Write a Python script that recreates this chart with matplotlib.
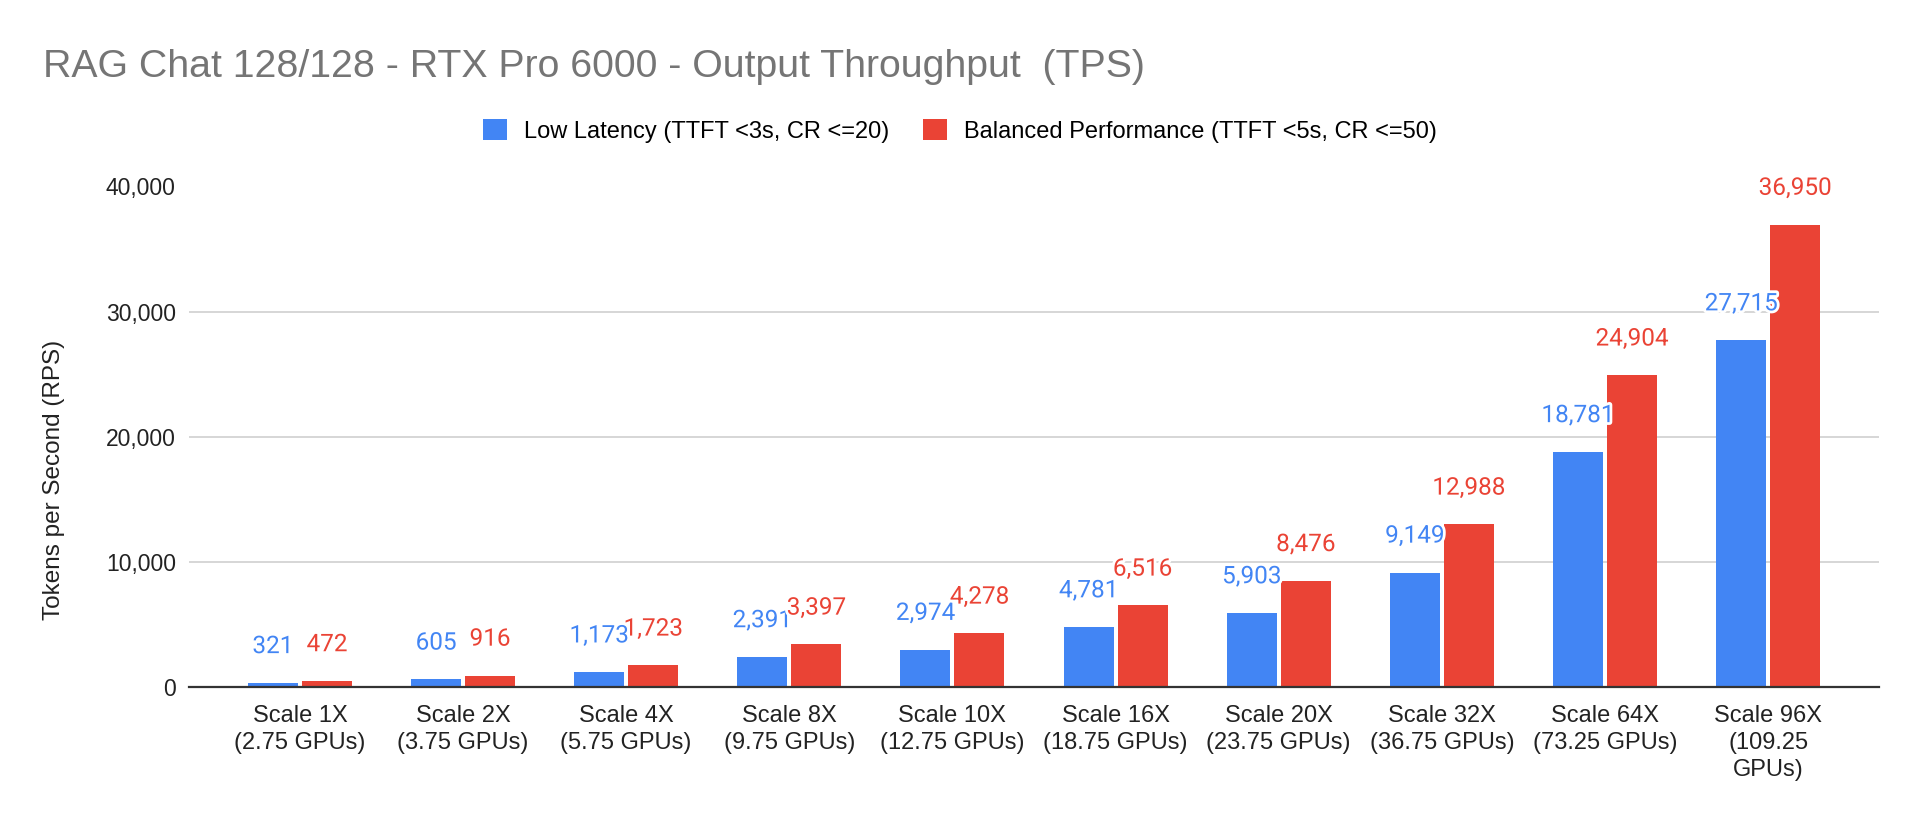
import numpy as np
import matplotlib.pyplot as plt
import matplotlib.patheffects as pe
from matplotlib.patches import Patch
from matplotlib.ticker import FuncFormatter

# ---- data ----
categories = [
    "Scale 1X\n(2.75 GPUs)", "Scale 2X\n(3.75 GPUs)", "Scale 4X\n(5.75 GPUs)",
    "Scale 8X\n(9.75 GPUs)", "Scale 10X\n(12.75 GPUs)", "Scale 16X\n(18.75 GPUs)",
    "Scale 20X\n(23.75 GPUs)", "Scale 32X\n(36.75 GPUs)", "Scale 64X\n(73.25 GPUs)",
    "Scale 96X\n(109.25\nGPUs)",
]
low_latency = [321, 605, 1173, 2391, 2974, 4781, 5903, 9149, 18781, 27715]
balanced = [472, 916, 1723, 3397, 4278, 6516, 8476, 12988, 24904, 36950]
series_names = ["Low Latency (TTFT <3s, CR <=20)", "Balanced Performance (TTFT <5s, CR <=50)"]
yticks = [0, 10000, 20000, 30000, 40000]

BLUE = "#4285F4"
RED = "#EA4335"
ARIAL = "Liberation Sans"

fig = plt.figure(figsize=(19.2, 8.24), dpi=100)
ax = fig.add_axes([189 / 1920, 1 - 687 / 824, 1690 / 1920, 500.5 / 824])

x = np.arange(len(categories))
w = 0.307
off = 0.1655
b1 = ax.bar(x - off, low_latency, w, color=BLUE, zorder=3)
b2 = ax.bar(x + off, balanced, w, color=RED, zorder=3)

# value labels above bars, white halo like the sheets export
halo = [pe.withStroke(linewidth=4, foreground="white")]
for bars, vals, col in [(b1, low_latency, BLUE), (b2, balanced, RED)]:
    for rect, v in zip(bars, vals):
        ax.annotate(f"{v:,}", (rect.get_x() + rect.get_width() / 2, v),
                    xytext=(0, 21.5), textcoords="offset points",
                    ha="center", va="baseline", fontsize=17.5, color=col,
                    family="Roboto", path_effects=halo, zorder=5)

ax.set_xlim(-0.68, len(categories) - 1 + 0.68)
ax.set_ylim(0, 40000)
ax.set_yticks(yticks)
ax.yaxis.set_major_formatter(FuncFormatter(lambda v, p: f"{int(v):,}"))
ax.set_xticks(x)
ax.set_xticklabels(categories, fontsize=17, family=ARIAL, color="#222222",
                   linespacing=1.3, va="top")
for t in ax.get_yticklabels():
    t.set_fontsize(16.5)
    t.set_family(ARIAL)
    t.set_color("#222222")
ax.tick_params(axis="both", length=0)
ax.tick_params(axis="x", pad=13)
ax.tick_params(axis="y", pad=9.5)

ax.grid(axis="y", color="#cccccc", linewidth=1.1, zorder=0)
for s in ["top", "right", "left"]:
    ax.spines[s].set_visible(False)
ax.spines["bottom"].set_color("#333333")
ax.spines["bottom"].set_linewidth(1.6)
ax.spines["bottom"].set_zorder(4)

fig.text(43 / 1920, 1 - 77 / 824, "RAG Chat 128/128 - RTX Pro 6000 - Output Throughput  (TPS)",
         fontsize=28.3, family=ARIAL, color="#757575", ha="left", va="baseline")
fig.text(54 / 1920, 1 - 480 / 824, "Tokens per Second (RPS)", rotation=90,
         fontsize=17.5, family=ARIAL, color="#222222", ha="center", va="center")

handles = [Patch(facecolor=BLUE), Patch(facecolor=RED)]
fig.legend(handles, series_names, loc="center", bbox_to_anchor=(0.5, 1 - 131 / 824),
           ncol=2, frameon=False, prop={"family": ARIAL, "size": 17},
           handlelength=1.02, handleheight=1.0, handletextpad=0.72, columnspacing=1.4)

fig.savefig("out.png", dpi=100, facecolor="white")
